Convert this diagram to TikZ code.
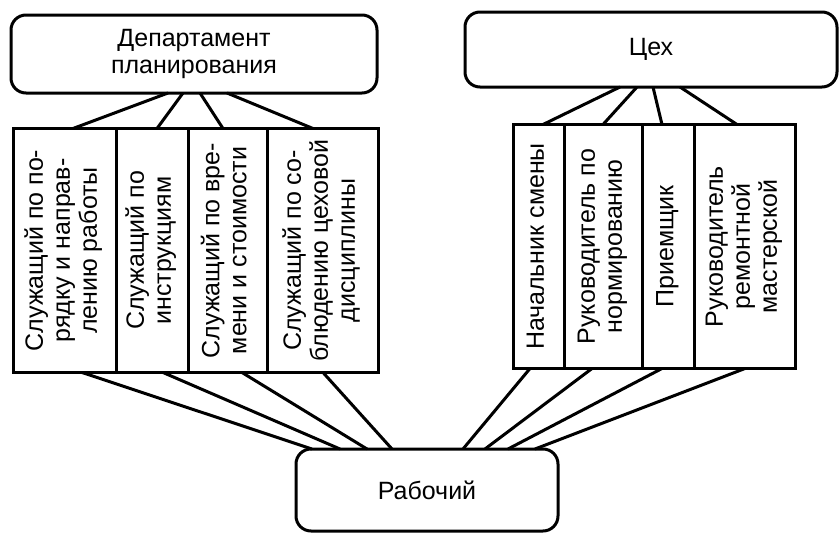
\documentclass[tikz,border=0pt]{standalone}
\usepackage{fontspec}
\setmainfont{Liberation Sans}
\usetikzlibrary{positioning,calc}

\newcommand{\uptext}[1]{\rotatebox{90}{\begin{tabular}{@{}c@{}}#1\end{tabular}}}

\begin{document}
\begin{tikzpicture}[
    x=1pt, y=-1pt,
    line width=3pt,
    every node/.style={font=\fontsize{25}{27}\selectfont},
    headbox/.style={draw, rounded corners=15pt, inner sep=0pt, outer sep=0pt, align=center},
    postbox/.style={draw, inner sep=0pt, outer sep=0pt, minimum height=244pt}
]
\useasboundingbox (0,0) rectangle (839,533);

% Heads
\node[headbox, minimum width=366pt, minimum height=78pt] (dept) at (194,54) {Департамент\\планирования};
\node[headbox, minimum width=372pt, minimum height=75pt] (shop) at (651,49.5) {Цех};
\node[headbox, minimum width=262pt, minimum height=82pt] (worker) at (427,490) {Рабочий};

% Planning department staff
\node[postbox, minimum width=103pt] (s1) at (64.5,250.5) {\uptext{Служащий по по-\\рядку и направ-\\лению работы}};
\node[postbox, minimum width=72pt] (s2) at (152,250.5) {\uptext{Служащий по\\инструкциям}};
\node[postbox, minimum width=79pt] (s3) at (227.5,250.5) {\uptext{Служащий по вре-\\мени и стоимости}};
\node[postbox, minimum width=111pt] (s4) at (322.5,250.5) {\uptext{Служащий по со-\\блюдению цеховой\\дисциплины}};

% Shop staff
\node[postbox, minimum width=51pt] (r1) at (538.5,246.5) {\uptext{Начальник смены}};
\node[postbox, minimum width=78pt] (r2) at (603,246.5) {\uptext{Руководитель по\\нормированию}};
\node[postbox, minimum width=52pt] (r3) at (668,246.5) {\uptext{Приемщик}};
\node[postbox, minimum width=101pt] (r4) at (744.5,246.5) {\uptext{Руководитель\\ремонтной\\мастерской}};

% Department to staff
\draw ($(dept.south)+(-26,0)$) -- ($(s1.north)+(8.5,0)$);
\draw ($(dept.south)+(-11,0)$) -- ($(s2.north)+(5,0)$);
\draw ($(dept.south)+(6,0)$) -- ($(s3.north)+(-4.5,0)$);
\draw ($(dept.south)+(33,0)$) -- ($(s4.north)+(-9.5,0)$);

% Shop to staff
\draw ($(shop.south)+(-31,0)$) -- ($(r1.north)+(4.5,0)$);
\draw ($(shop.south)+(-14,0)$) -- ($(r2.north)+(0,0)$);
\draw ($(shop.south)+(2,0)$) -- ($(r3.north)+(-6,0)$);
\draw ($(shop.south)+(29,0)$) -- ($(r4.north)+(-7.5,0)$);

% Staff to worker
\draw ($(s1.south)+(17.5,0)$) -- ($(worker.north)+(-115,0)$);
\draw ($(s2.south)+(11,0)$) -- ($(worker.north)+(-87,0)$);
\draw ($(s3.south)+(14.5,0)$) -- ($(worker.north)+(-60,0)$);
\draw ($(s4.south)+(0.5,0)$) -- ($(worker.north)+(-35,0)$);
\draw ($(r1.south)+(-8.5,0)$) -- ($(worker.north)+(36,0)$);
\draw ($(r2.south)+(-11,0)$) -- ($(worker.north)+(58,0)$);
\draw ($(r3.south)+(-6,0)$) -- ($(worker.north)+(81,0)$);
\draw ($(r4.south)+(0.5,0)$) -- ($(worker.north)+(108,0)$);

\end{tikzpicture}
\end{document}
